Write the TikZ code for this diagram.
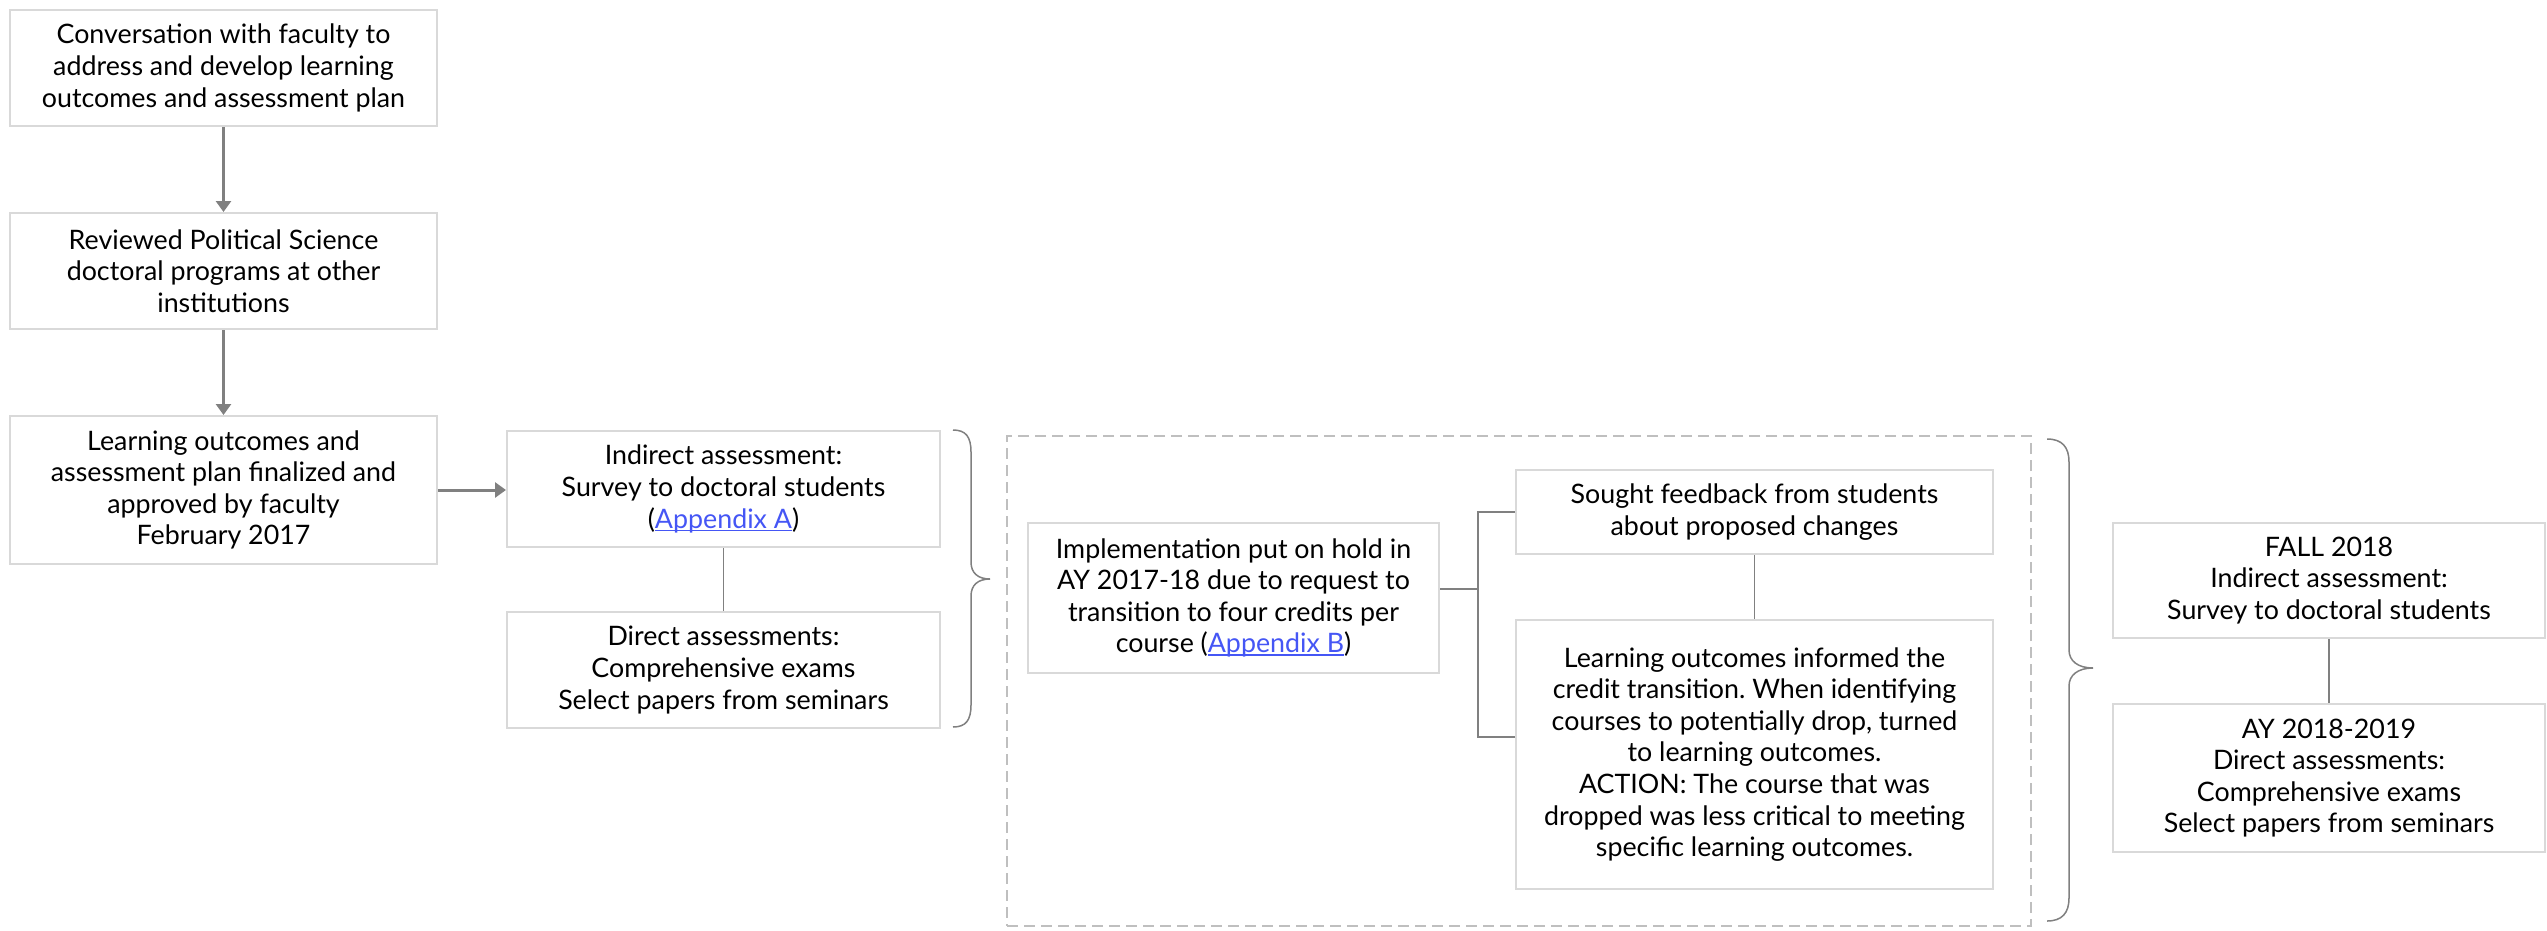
\documentclass[tikz,border=0pt]{standalone}
\usepackage{fontspec}
\setmainfont{Lato}
\usetikzlibrary{arrows.meta}
\definecolor{boxgray}{HTML}{D9D9D9}
\definecolor{linegray}{HTML}{808080}
\definecolor{dashgray}{HTML}{BFBFBF}
\definecolor{linkblue}{HTML}{4556F5}
\frenchspacing
\newcommand{\applink}[1]{{\color{linkblue}\setbox0\hbox{#1}\rlap{\rule[-3pt]{\wd0}{1.5pt}}\box0}}
\tikzset{
  box/.style={draw=boxgray, line width=2pt, fill=white, inner sep=0pt, align=center,
    font=\fontsize{26.8}{31.6}\selectfont, text=black},
  arr/.style={draw=linegray, line width=3pt, -{Triangle[length=11pt,width=15pt]}},
  conn/.style={draw=linegray, line width=1.5pt},
  bracestyle/.style={draw=linegray, line width=1.5pt},
  frame/.style={draw=dashgray, line width=2.5pt, dash pattern=on 11pt off 6pt, inner sep=0pt}
}
\begin{document}
\begin{tikzpicture}[x=1pt,y=-1pt]
\useasboundingbox (0,0) rectangle (2547,930);
% left column
\node[box, minimum width=427pt, minimum height=116pt] (b1) at (223.5,68)
  {Conversation with faculty to\\address and develop learning\\outcomes and assessment plan};
\node[box, minimum width=427pt, minimum height=116pt] (b2) at (223.5,271)
  {Reviewed Political Science\\doctoral programs at other\\institutions};
\node[box, minimum width=427pt, minimum height=148pt] (b3) at (223.5,490)
  {Learning outcomes and\\assessment plan finalized and\\approved by faculty\\February 2017};
\draw[arr] (b1) -- (b2);
\draw[arr] (b2) -- (b3);
% second column
\node[box, minimum width=433pt, minimum height=116pt] (ind) at (723.5,489)
  {Indirect assessment:\\Survey to doctoral students\\(\applink{Appendix A})};
\node[box, minimum width=433pt, minimum height=116pt] (dir) at (723.5,670)
  {Direct assessments:\\Comprehensive exams\\Select papers from seminars};
\draw[arr] (b3.east) -- (b3.east -| ind.west);
\draw[conn] (ind) -- (dir);
% brace 1
\draw[bracestyle] (953,430) .. controls (966,430) and (971,437) .. (971,452) -- (971,562)
  .. controls (971,573) and (978,579) .. (990,579)
  .. controls (978,579) and (971,585) .. (971,596) -- (971,705)
  .. controls (971,720) and (966,727) .. (953,727);
% dashed group
\node[frame, minimum width=1024pt, minimum height=490pt] (grp) at (1519,681) {};
\node[box, minimum width=411pt, minimum height=150pt] (impl) at (1233.5,598)
  {Implementation put on hold in\\AY 2017-18 due to request to\\transition to four credits per\\course (\applink{Appendix B})};
\node[box, minimum width=477pt, minimum height=84pt] (sought) at (1754.5,512)
  {Sought feedback from students\\about proposed changes};
\node[box, minimum width=477pt, minimum height=269pt] (learn) at (1754.5,754.5)
  {Learning outcomes informed the\\credit transition. When identifying\\courses to potentially drop, turned\\to learning outcomes.\\ACTION: The course that was\\dropped was less critical to meeting\\specific learning outcomes.};
\coordinate (j) at (1478,589);
\draw[conn] ([yshift=9pt]impl.east) -- (j);
\draw[conn] (sought.west) -| (j);
\draw[conn] ([yshift=17.5pt]learn.west) -| (j);
\draw[conn] (sought) -- (learn);
% brace 2
\draw[bracestyle] (2047,439) .. controls (2062,439) and (2069,447) .. (2069,462) -- (2069,650)
  .. controls (2069,661) and (2078,668) .. (2093,668)
  .. controls (2078,668) and (2069,675) .. (2069,686) -- (2069,898)
  .. controls (2069,913) and (2062,921) .. (2047,921);
% right column
\node[box, minimum width=432pt, minimum height=115pt] (fall) at (2329,580.5)
  {FALL 2018\\Indirect assessment:\\Survey to doctoral students};
\node[box, minimum width=432pt, minimum height=148pt] (ay) at (2329,778)
  {AY 2018-2019\\Direct assessments:\\Comprehensive exams\\Select papers from seminars};
\draw[conn] (fall) -- (ay);
\end{tikzpicture}
\end{document}
